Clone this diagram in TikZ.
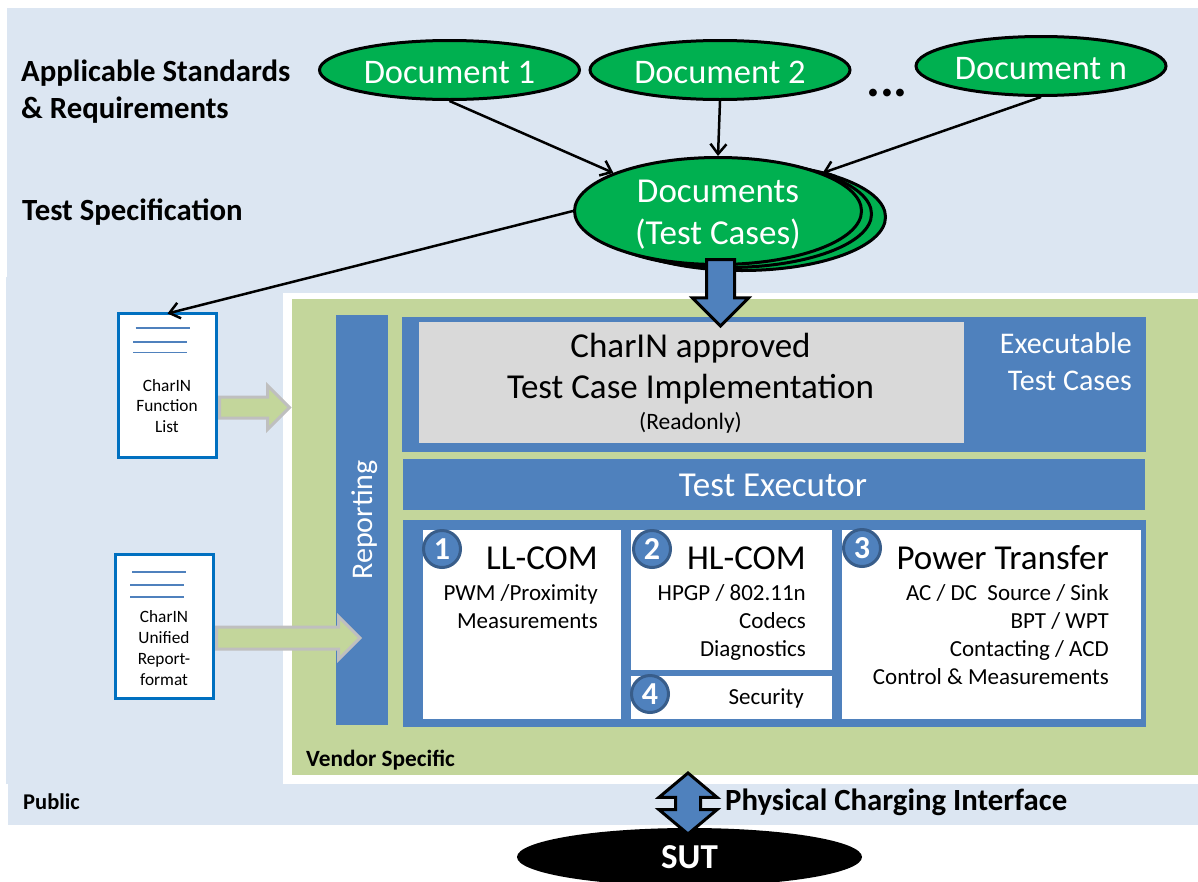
\documentclass[tikz,border=0pt]{standalone}
\usepackage{fontspec}
\setmainfont{Carlito}
\usetikzlibrary{shapes.geometric,shapes.arrows,arrows.meta}
\definecolor{publicblue}{HTML}{DCE6F2}
\definecolor{vendorgreen}{HTML}{C3D69B}
\definecolor{docgreen}{HTML}{00B050}
\definecolor{panelblue}{HTML}{4F81BD}
\definecolor{circleblue}{HTML}{385D8A}
\definecolor{listblue}{HTML}{0070C0}
\definecolor{readonlygrey}{HTML}{D9D9D9}
\newcommand{\fsize}[2]{\fontsize{#1}{#2}\selectfont}
\tikzset{
  panelstyle/.style={rectangle,fill=#1,anchor=north west,inner sep=0,outer sep=0},
  docstyle/.style={ellipse,draw,line width=3pt,fill=docgreen,text=white,inner sep=0,align=center},
  singledoc/.style={docstyle,minimum height=59pt,text height=27pt,text depth=0pt,font=\fsize{34.5}{36}},
  headstyle/.style={anchor=base west,inner sep=0,font=\bfseries\fsize{30.8}{36}},
  smallhead/.style={anchor=base west,inner sep=0,font=\bfseries\fsize{22.5}{24}},
  liststyle/.style={rectangle,draw=listblue,line width=3pt,fill=white,inner sep=0,outer sep=0,anchor=north west},
  listtext/.style={align=center,inner sep=0,font=\fsize{17.3}{20.7}},
  listline/.style={panelblue,line width=1.5pt},
  numstyle/.style={circle,draw=circleblue,line width=3pt,fill=panelblue,text=white,minimum size=37pt,inner sep=0,font=\bfseries\fsize{32}{32}},
  titlestyle/.style={anchor=base east,inner sep=0,font=\fsize{35}{36}},
  itemstyle/.style={anchor=north east,inner sep=0,align=right,font=\fsize{23}{28}},
  greenarrow/.style={single arrow,draw=black!25,line width=3pt,fill=vendorgreen,inner xsep=0,outer sep=0,anchor=tail},
  bluearrow/.style={draw,line width=3pt,fill=panelblue,inner xsep=0,outer sep=0},
  thinarrow/.style={-{Straight Barb[length=10pt,width=16pt]},line width=2.5pt}
}
\begin{document}
\begin{tikzpicture}[x=1pt,y=-1pt]
\useasboundingbox (0,0) rectangle (1198,881);
\fill[publicblue] (7,8) rectangle (1198,293);
\fill[publicblue] (6,277) rectangle (283,784);
\fill[publicblue] (8,784) rectangle (1198,825);
\node[panelstyle=vendorgreen,minimum width=906pt,minimum height=476pt] (vendor) at (292,299) {};
\node[panelstyle=panelblue,minimum width=52pt,minimum height=410pt] (reporting) at (336,315) {};
\node[panelstyle=panelblue,minimum width=744pt,minimum height=135pt] (executable) at (402,317) {};
\node[panelstyle=readonlygrey,minimum width=545pt,minimum height=121pt] (approved) at (419,322) {};
\node[panelstyle=panelblue,minimum width=742pt,minimum height=51pt] (executor) at (403,459) {};
\node[panelstyle=panelblue,minimum width=743pt,minimum height=207pt] (modules) at (403,520) {};
\node[panelstyle=white,minimum width=198pt,minimum height=189pt] (llcom) at (423,530) {};
\node[panelstyle=white,minimum width=201pt,minimum height=140pt] (hlcom) at (631,530) {};
\node[panelstyle=white,minimum width=201pt,minimum height=43pt] (security) at (631,676) {};
\node[panelstyle=white,minimum width=299pt,minimum height=189pt] (power) at (841.5,530) {};

\node[headstyle] (standardstext) at (21,81) {Applicable Standards};
\node[headstyle] (requirementstext) at (21,118) {\& Requirements};
\node[headstyle] (spectext) at (22,220) {Test Specification};
\node[smallhead] (publictext) at (23,809) {Public};
\node[smallhead,font=\bfseries\fsize{23.3}{24}] (vendortext) at (306,766) {Vendor Specific};
\node[headstyle] (interfacetext) at (725,810) {Physical Charging Interface};

\node[singledoc,minimum width=260pt] (doc1) at (449.5,70) {Document 1};
\node[singledoc,minimum width=260pt] (doc2) at (720,70) {Document 2};
\node[singledoc,minimum width=250pt] (docn) at (1041,66) {Document n};
\node[anchor=base,inner sep=0,font=\bfseries\fsize{52}{52}] (dots) at (887,96) {...};
\node[docstyle,minimum width=287pt,minimum height=107pt] (docsback) at (742,217) {};
\node[docstyle,minimum width=287pt,minimum height=107pt] (docsmid) at (728,214) {};
\node[docstyle,minimum width=287pt,minimum height=107pt] (docs) at (718,211) {};
\node[inner sep=0,align=center,text=white,font=\fsize{35}{42}] (docstext) at (718,215) {Documents\\(Test Cases)};

\node[liststyle,minimum width=98pt,minimum height=144pt] (funclist) at (118.5,313.5) {};
\node[liststyle,minimum width=98pt,minimum height=144pt] (reportlist) at (115.5,554.5) {};
\draw[listline] (135.5,328) -- (190,328);
\draw[listline] (133,342) -- (187,342);
\draw[listline] (133,352.5) -- (187,352.5);
\draw[listline] (132,572) -- (186,572);
\draw[listline] (130,585) -- (184,585);
\draw[listline] (130,597) -- (184,597);
\node[listtext] (functext) at (167,406) {CharIN\\Function\\List};
\node[listtext] (reporttext) at (164,648) {CharIN\\Unified\\Report-\\format};

\node[greenarrow,inner ysep=9pt,single arrow head extend=11.5pt,minimum height=70pt] (funcarrow) at (219.5,407.5) {};
\node[greenarrow,inner ysep=9.5pt,single arrow head extend=10.5pt,minimum height=143.5pt] (reportarrow) at (216.5,638) {};

\draw[thinarrow] (doc1.south) -- (docs.160);
\draw[thinarrow] (doc2.south) -- (docs.north);
\draw[thinarrow] (docn.south) -- (docs.20);
\draw[thinarrow] (docs.west) -- (funclist.north);

\node[single arrow,bluearrow,anchor=tail,rotate=-90,inner ysep=12.5pt,single arrow head extend=14pt,minimum height=66.4pt] (specarrow) at (720.5,259.5) {};

\node[anchor=base,inner sep=0,font=\fsize{35}{36}] (approvedtext) at (690.5,357) {CharIN approved};
\node[anchor=base,inner sep=0,font=\fsize{35}{36}] (impltext) at (690.5,398) {Test Case Implementation};
\node[anchor=base,inner sep=0,font=\fsize{23.5}{24}] (readonlytext) at (690.5,429) {(Readonly)};
\node[anchor=base east,inner sep=0,text=white,font=\fsize{30}{36}] (exectext) at (1132,353) {Executable};
\node[anchor=base east,inner sep=0,text=white,font=\fsize{30}{36}] (casestext) at (1132,390) {Test Cases};
\node[anchor=base,inner sep=0,text=white,font=\fsize{35}{36}] (executortext) at (773,496) {Test Executor};
\node[anchor=base,inner sep=0,text=white,rotate=90,font=\fsize{30}{32}] (reportingtext) at (372,520) {Reporting};

\node[titlestyle] (lltitle) at (598,569) {LL-COM};
\node[titlestyle] (hltitle) at (806,569) {HL-COM};
\node[titlestyle] (powertitle) at (1109,569) {Power Transfer};
\node[itemstyle] (llitems) at (598,584) {PWM /Proximity\\Measurements};
\node[itemstyle] (hlitems) at (806,584) {HPGP / 802.11n\\Codecs\\Diagnostics};
\node[itemstyle] (poweritems) at (1109,584) {AC / DC\ \ Source / Sink\\BPT / WPT\\Contacting / ACD\\Control \& Measurements};
\node[titlestyle,font=\fsize{23}{24}] (securitytext) at (804,704) {Security};

\node[numstyle] (num1) at (442,549) {1};
\node[numstyle] (num2) at (652,549) {2};
\node[numstyle] (num3) at (862,548) {3};
\node[numstyle] (num4) at (650,694) {4};

\node[ellipse,fill=black,text=white,minimum width=345pt,minimum height=58pt,inner sep=0,font=\bfseries\fsize{35}{36}] (sut) at (689.5,857) {SUT};
\node[double arrow,bluearrow,rotate=90,inner ysep=11pt,double arrow head extend=16.5pt,double arrow tip angle=100,minimum height=61pt] (interfacearrow) at (688,803.5) {};
\end{tikzpicture}
\end{document}
